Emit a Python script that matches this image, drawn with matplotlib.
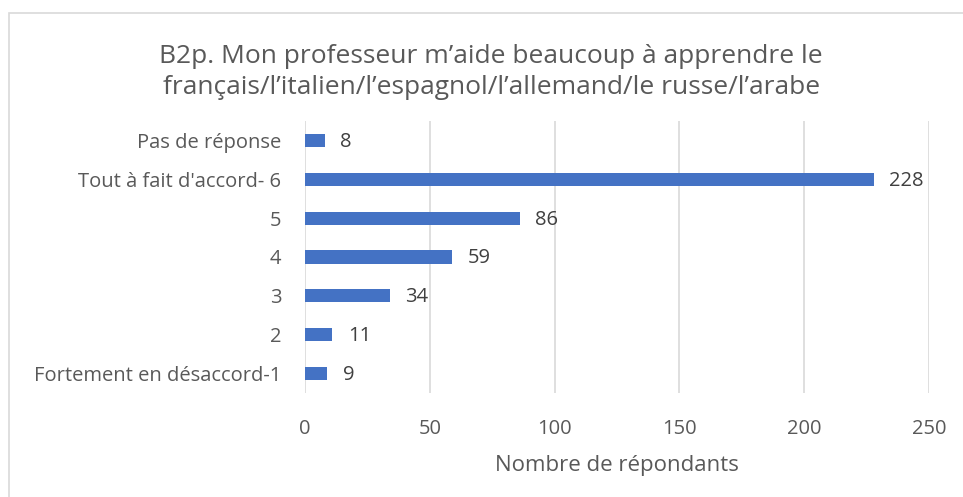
import matplotlib.pyplot as plt
from matplotlib.patches import Rectangle

categories = ["Fortement en désaccord-1", "2", "3", "4", "5",
              "Tout à fait d'accord- 6", "Pas de réponse"]
counts = [9, 11, 34, 59, 86, 228, 8]
xticks = [0, 50, 100, 150, 200, 250]

plt.rcParams['font.family'] = ['Open Sans', 'DejaVu Sans']

fig = plt.figure(figsize=(9.63, 4.97), dpi=100)
ax = fig.add_axes([305/963, 1 - 393/497, 624/963, 272/497])

bars = ax.barh(categories, counts, height=0.34, color='#4472C4')
for b, v in zip(bars, counts):
    ax.annotate(str(v), (b.get_width(), b.get_y() + b.get_height()/2),
                xytext=(11, -1), textcoords='offset points',
                va='center', ha='left', fontsize=14.5, color='#404040')

ax.set_xlim(0, 250)
ax.set_ylim(-0.5, len(categories) - 0.5)
ax.set_xticks(xticks)
ax.grid(axis='x', color='#d9d9d9', lw=1.2)
ax.set_axisbelow(True)
for s in ax.spines.values():
    s.set_visible(False)
ax.tick_params(axis='both', length=0, labelsize=14.5, labelcolor='#595959')
ax.tick_params(axis='y', pad=17)
ax.tick_params(axis='x', pad=19)
ax.set_xlabel("Nombre de répondants", fontsize=16, color='#595959', labelpad=11)

fig.text(0.51, 1 - 72/497,
         "B2p. Mon professeur m’aide beaucoup à apprendre le\n"
         "français/l’italien/l’espagnol/l’allemand/le russe/l’arabe",
         ha='center', va='center', fontsize=19, color='#595959',
         linespacing=1.35)

fig.patches.append(Rectangle((9/963, -0.1), 1.2, 1.1 - 13/497,
                             transform=fig.transFigure, fill=False,
                             edgecolor='#d9d9d9', lw=1.2))

fig.savefig('out.png', dpi=100)
